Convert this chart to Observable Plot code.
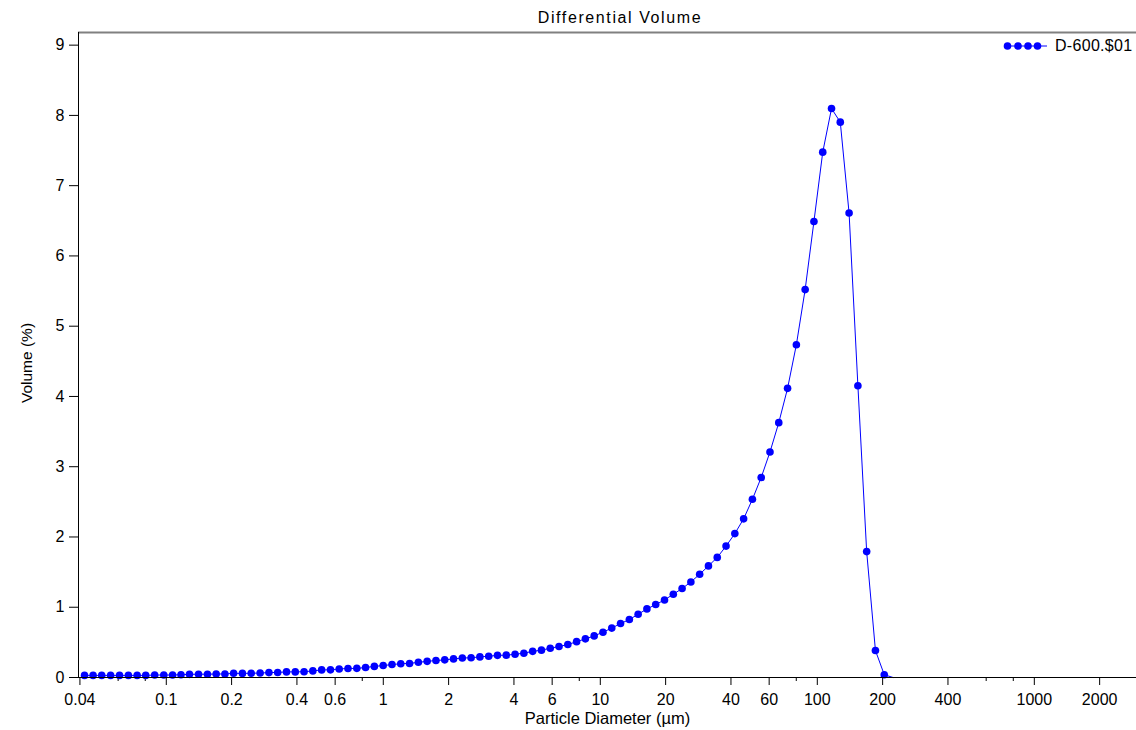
<!DOCTYPE html>
<html>
<head>
<meta charset="utf-8">
<script src="https://cdn.jsdelivr.net/npm/d3@7"></script>
<script src="https://cdn.jsdelivr.net/npm/@observablehq/plot@0.6"></script>
<style>
  body { margin: 0; background: #fff; font-family: "Liberation Sans", Arial, sans-serif; }
  #wrap { position: relative; width: 1136px; height: 730px; overflow: hidden; }
  #chart { position: absolute; left: 0; top: 0; }
  #title { position: absolute; top: 10px; left: 620px; transform: translateX(-50%); font-size: 16px; line-height: 16px; letter-spacing: 1.6px; white-space: nowrap; color: #000; }
  #legend { position: absolute; left: 1003px; top: 37px; height: 18px; display: flex; align-items: center; font-size: 16px; letter-spacing: 0.3px; white-space: nowrap; color: #000; }
  #legend svg { margin-right: 6px; }
</style>
</head>
<body>
<div id="wrap">
  <div id="chart"></div>
  <div id="title"></div>
  <div id="legend"></div>
</div>
<script>
// ---- data ----
const titleText = "Differential Volume";
const seriesName = "D-600.$01";
const xLabel = "Particle Diameter (µm)";
const yLabel = "Volume (%)";

const diameters = [
  0.042, 0.046, 0.0504, 0.0554, 0.0609, 0.0669, 0.0734, 0.0804, 0.0884, 0.0974,
  0.1069, 0.1169, 0.1279, 0.1408, 0.1548, 0.1698, 0.1863, 0.2043, 0.2243, 0.2462,
  0.2707, 0.2972, 0.3261, 0.3581, 0.3931, 0.4315, 0.4735, 0.5199, 0.5709, 0.6263,
  0.6877, 0.7552, 0.8286, 0.9095, 0.9989, 1.0968, 1.2037, 1.3215, 1.4509, 1.5928,
  1.7486, 1.9194, 2.1073, 2.3131, 2.5388, 2.7869, 3.0596, 3.3588, 3.6869, 4.0476,
  4.4438, 4.8783, 5.3552, 5.8787, 6.453, 7.0838, 7.7767, 8.5368, 9.3714, 10.288,
  11.293, 12.396, 13.61, 14.939, 16.397, 18.001, 19.763, 21.697, 23.814, 26.142,
  28.699, 31.506, 34.587, 37.969, 41.68, 45.755, 50.226, 55.135, 60.524, 66.437,
  72.935, 80.074, 87.897, 96.49, 105.93, 116.28, 127.61, 140.09, 153.83, 168.82,
  185.3, 203.48, 223.36
];
const volumes = [
  0.03, 0.03, 0.03, 0.03, 0.03, 0.03, 0.03, 0.03, 0.035, 0.035,
  0.035, 0.04, 0.045, 0.047, 0.047, 0.05, 0.05, 0.06, 0.058, 0.061,
  0.063, 0.07, 0.072, 0.08, 0.08, 0.082, 0.094, 0.108, 0.109, 0.122,
  0.128, 0.13, 0.142, 0.158, 0.17, 0.184, 0.196, 0.2, 0.216, 0.23,
  0.241, 0.251, 0.265, 0.277, 0.281, 0.293, 0.303, 0.315, 0.318, 0.331,
  0.346, 0.372, 0.389, 0.416, 0.441, 0.469, 0.51, 0.55, 0.592, 0.645,
  0.703, 0.768, 0.825, 0.9, 0.976, 1.038, 1.104, 1.185, 1.266, 1.36,
  1.469, 1.588, 1.709, 1.87, 2.048, 2.258, 2.536, 2.847, 3.21, 3.627,
  4.115, 4.736, 5.521, 6.491, 7.477, 8.098, 7.904, 6.61, 4.153, 1.792,
  0.384, 0.04, 0
];
const xMajorTicks = [0.04, 0.1, 0.2, 0.4, 0.6, 1, 2, 4, 6, 10, 20, 40, 60, 100, 200, 400, 1000, 2000];
const xMinorTicks = [0.06, 0.08, 0.8, 8, 80, 600, 800];
const yTicks = [0, 1, 2, 3, 4, 5, 6, 7, 8, 9];
const xDomain = [0.0394, 2957];
const yDomain = [0, 9.18];

const data = diameters.map((d, i) => ({d, v: volumes[i]}));
const blue = "#0000ff";

const chart = Plot.plot({
  width: 1136,
  height: 730,
  marginTop: 32,
  marginBottom: 53,
  marginLeft: 78,
  marginRight: 0,
  style: {fontFamily: '"Liberation Sans", Arial, sans-serif', fontSize: "16px", background: "#fff", color: "#000"},
  x: {type: "log", domain: xDomain},
  y: {domain: yDomain},
  marks: [
    Plot.axisY(yTicks, {tickSize: 9, tickPadding: 5, fontSize: 16, tickFormat: d => String(d), label: null}),
    Plot.axisX(xMajorTicks, {tickSize: 8, tickFormat: () => "", label: null}),
    Plot.axisX(xMinorTicks, {tickSize: 4, tickFormat: () => "", label: null}),
    Plot.text(xMajorTicks, {x: d => d, text: d => String(d), frameAnchor: "bottom", lineAnchor: "top", dy: 16, fontSize: 16}),
    Plot.text([xLabel], {text: d => d, frameAnchor: "bottom", lineAnchor: "bottom", dy: 46, fontSize: 16.5}),
    Plot.text([yLabel], {text: d => d, frameAnchor: "left", textAnchor: "middle", lineAnchor: "middle", rotate: -90, dx: -51, dy: 8, fontSize: 15.5}),
    Plot.ruleY([yDomain[1]], {stroke: "#808080", strokeWidth: 2}),
    Plot.line(data, {x: "d", y: "v", stroke: blue, strokeWidth: 1}),
    Plot.dot(data.filter(p => p.v > 0), {x: "d", y: "v", r: 3.8, fill: blue, stroke: "none"}),
    Plot.ruleY([0], {stroke: "#000", strokeWidth: 1}),
    Plot.ruleX([xDomain[0]], {stroke: "#000", strokeWidth: 1})
  ]
});
document.getElementById("chart").appendChild(chart);
document.getElementById("title").textContent = titleText;

// legend (HTML, outside the svg)
const leg = document.getElementById("legend");
const sw = d3.create("svg").attr("width", 46).attr("height", 18);
sw.append("line").attr("x1", 2).attr("x2", 44).attr("y1", 9).attr("y2", 9).attr("stroke", blue).attr("stroke-width", 1);
sw.selectAll("circle").data([4.5, 15, 25, 34.5]).join("circle")
  .attr("cx", d => d).attr("cy", 9).attr("r", 3.8).attr("fill", blue);
leg.appendChild(sw.node());
const span = document.createElement("span");
span.textContent = seriesName;
leg.appendChild(span);
</script>
</body>
</html>
